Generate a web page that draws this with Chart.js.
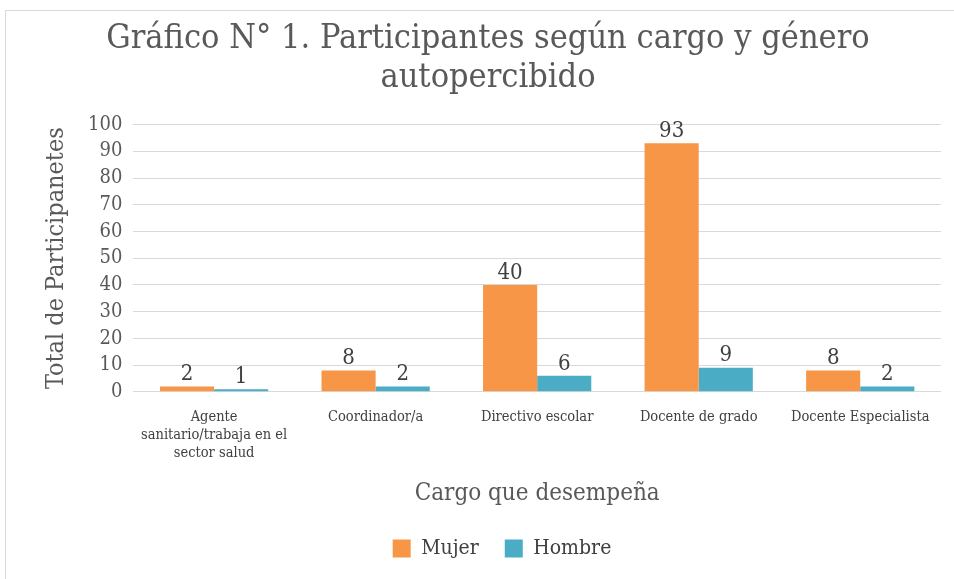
<!DOCTYPE html>
<html>
<head>
<meta charset="utf-8">
<script src="https://cdn.jsdelivr.net/npm/chart.js@4.4.0/dist/chart.umd.min.js"></script>
<style>
  html, body { margin: 0; padding: 0; background: #fff; }
  #wrap { position: absolute; left: 5px; top: 10px; width: 960px; height: 580px;
          border: 1px solid #d9d9d9; box-sizing: border-box; }
  #c { display: block; }
</style>
</head>
<body>
<div id="wrap"><canvas id="c" width="949" height="569"></canvas></div>
<script>
const categories = [
  ['Agente', 'sanitario/trabaja en el', 'sector salud'],
  'Coordinador/a',
  'Directivo escolar',
  'Docente de grado',
  'Docente Especialista'
];
const mujer = [2, 8, 40, 93, 8];
const hombre = [1, 2, 6, 9, 2];

const FONT = '"DejaVu Serif Condensed", "DejaVu Serif", serif';

// draw value on top of each bar
const valueLabels = {
  id: 'valueLabels',
  afterDatasetsDraw(chart) {
    const ctx = chart.ctx;
    ctx.save();
    ctx.font = '22px ' + FONT;
    ctx.fillStyle = '#404040';
    ctx.textAlign = 'center';
    ctx.textBaseline = 'bottom';
    chart.data.datasets.forEach(function(ds, i) {
      chart.getDatasetMeta(i).data.forEach(function(bar, j) {
        ctx.fillText(ds.data[j], bar.x, bar.y - 1);
      });
    });
    ctx.restore();
  }
};

// legend in the original sits a bit right of centre
const legendShift = {
  id: 'legendShift',
  afterLayout(chart) {
    chart.legend.left += 14;
    chart.legend.right += 14;
  }
};

new Chart(document.getElementById('c'), {
  type: 'bar',
  data: {
    labels: categories,
    datasets: [
      { label: 'Mujer', data: mujer, backgroundColor: '#F79646' },
      { label: 'Hombre', data: hombre, backgroundColor: '#4BACC6' }
    ]
  },
  options: {
    responsive: false,
    animation: false,
    layout: { padding: { left: 29, right: 14, top: 8, bottom: 11 } },
    datasets: { bar: { categoryPercentage: 0.67, barPercentage: 1 } },
    plugins: {
      title: {
        display: true,
        text: ['Gráfico N° 1. Participantes según cargo y género', 'autopercibido'],
        color: '#595959',
        font: { family: FONT, size: 34, weight: 'normal', lineHeight: 1.17 },
        padding: { top: 0, bottom: 26 }
      },
      legend: {
        position: 'bottom',
        labels: {
          color: '#404040',
          font: { family: FONT, size: 21 },
          boxWidth: 18, boxHeight: 18, padding: 26
        }
      },
      tooltip: { enabled: false }
    },
    scales: {
      x: {
        grid: { display: false },
        border: { display: false },
        ticks: { color: '#404040', font: { family: FONT, size: 14.5, lineHeight: 1.25 }, maxRotation: 0, padding: 8 },
        title: { display: true, text: 'Cargo que desempeña', color: '#595959',
                 font: { family: FONT, size: 24 }, padding: { top: 9, bottom: 4 } }
      },
      y: {
        min: 0, max: 100,
        ticks: { stepSize: 10, autoSkip: false, color: '#595959', font: { family: FONT, size: 20 }, padding: 11 },
        grid: { color: '#d9d9d9', drawTicks: false },
        border: { display: false },
        title: { display: true, text: 'Total de Participanetes', color: '#595959',
                 font: { family: FONT, size: 25 }, padding: 6 }
      }
    }
  },
  plugins: [valueLabels, legendShift]
});
</script>
</body>
</html>
